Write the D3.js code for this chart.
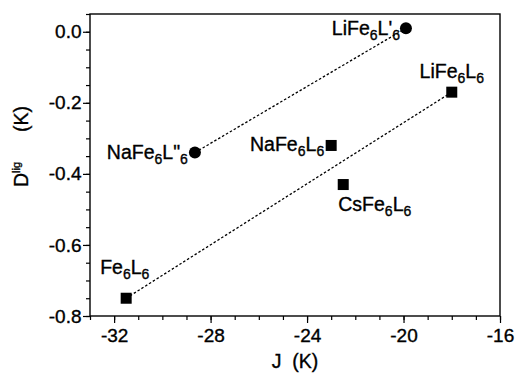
<!DOCTYPE html>
<html>
<head>
<meta charset="utf-8">
<script src="https://cdn.jsdelivr.net/npm/d3@7"></script>
<style>
  body { margin: 0; background: #fff; }
  text { font-family: "Liberation Sans", Arial, sans-serif; fill: #000; stroke: #000; stroke-width: 0.35px; }
</style>
</head>
<body>
<div id="chart-area"></div>
<script>
// compounds and their values (J in K, D_lig in K)
var names   = ['LiFe6L\'6', 'LiFe6L6', 'NaFe6L6', 'CsFe6L6', 'NaFe6L"6', 'Fe6L6'];
var shapes  = ['circle', 'square', 'square', 'square', 'circle', 'square'];
var jValues = [-19.9, -18.0, -23.0, -22.5, -28.65, -31.5];
var dValues = [0.01, -0.17, -0.32, -0.43, -0.34, -0.75];

// dotted guide lines (end points)
var upperLine = [[-28.65, -0.34], [-19.9, 0.01]];
var lowerLine = [[-31.5, -0.75], [-18.0, -0.17]];

var xTicks = [-32, -28, -24, -20, -16];
var yTicks = [-0.8, -0.6, -0.4, -0.2, 0.0];

var margin = { top: 14, left: 90, bottom: 57, right: 16 };
var width = 516 - margin.left - margin.right;
var height = 373 - margin.top - margin.bottom;

var svg = d3.select('#chart-area').append('svg')
    .attr('width', 516)
    .attr('height', 373);

var g = svg.append('g').attr('transform', `translate(${margin.left}, ${margin.top})`);

var x = d3.scaleLinear().domain([-33, -16]).range([0, width]);
var y = d3.scaleLinear().domain([-0.8, 0.05]).range([height, 0]);

// minor ticks
g.append('g').attr('class', 'x-minor')
    .attr('transform', `translate(0, ${height})`)
    .call(d3.axisBottom(x).tickValues(d3.range(-33, -15.5, 1)).tickSize(4).tickFormat(''));
g.append('g').attr('class', 'y-minor')
    .call(d3.axisLeft(y).tickValues(d3.range(-0.8, 0.051, 0.05)).tickSize(4).tickFormat(''));

// major ticks
g.append('g').attr('class', 'x-axis')
    .attr('transform', `translate(0, ${height})`)
    .call(d3.axisBottom(x).tickValues(xTicks).tickSize(7).tickPadding(6).tickFormat(d => String(d)));
g.append('g').attr('class', 'y-axis')
    .call(d3.axisLeft(y).tickValues(yTicks).tickSize(7).tickPadding(1.5).tickFormat(d => d.toFixed(1)));

g.selectAll('.domain').remove();
g.selectAll('.tick line').attr('stroke', '#000').attr('stroke-width', 1.2);
g.selectAll('.x-axis text, .y-axis text')
    .attr('font-size', '19px')
    .attr('font-family', '"Liberation Sans", Arial, sans-serif')
    .attr('fill', '#000');

// frame
g.append('rect')
    .attr('width', width).attr('height', height)
    .attr('fill', 'none').attr('stroke', '#000').attr('stroke-width', 1.4);

// dotted lines
var line = d3.line().x(d => x(d[0])).y(d => y(d[1]));
[upperLine, lowerLine].forEach(l => {
    g.append('path')
        .attr('d', line(l))
        .attr('fill', 'none')
        .attr('stroke', '#000')
        .attr('stroke-width', 1.3)
        .attr('stroke-dasharray', '2.5,2');
});

var data = names.map((n, i) => ({ name: n, shape: shapes[i], j: jValues[i], d: dValues[i] }));

// markers
g.selectAll('circle.pt').data(data.filter(d => d.shape === 'circle'))
    .enter().append('circle')
    .attr('class', 'pt')
    .attr('cx', d => x(d.j))
    .attr('cy', d => y(d.d))
    .attr('r', 6)
    .attr('fill', '#000');

g.selectAll('rect.pt').data(data.filter(d => d.shape === 'square'))
    .enter().append('rect')
    .attr('class', 'pt')
    .attr('x', d => x(d.j) - 5.5)
    .attr('y', d => y(d.d) - 5.5)
    .attr('width', 11)
    .attr('height', 11)
    .attr('fill', '#000');

// label placement relative to marker: [dx, dy, anchor]
var labelPos = [[-6, 7, 'end'], [0, -14, 'middle'], [-7, 5.5, 'end'], [-5, 26, 'start'], [-7, 6, 'end'], [-26, -24, 'start']];

data.forEach((d, i) => {
    var p = labelPos[i];
    var t = g.append('text')
        .attr('x', x(d.j) + p[0])
        .attr('y', y(d.d) + p[1])
        .attr('text-anchor', p[2])
        .attr('font-size', '19.5px');
    var parts = d.name.split(/(6)/).filter(s => s !== '');
    var shifted = false;
    parts.forEach(s => {
        if (s === '6') {
            t.append('tspan').attr('font-size', '14px').attr('dy', shifted ? 0 : 5).text(s);
            shifted = true;
        } else {
            t.append('tspan').attr('dy', shifted ? -5 : 0).text(s);
            shifted = false;
        }
    });
});

// axis titles
svg.append('text')
    .attr('x', 295)
    .attr('y', 368)
    .attr('text-anchor', 'middle')
    .attr('font-size', '19.5px')
    .style('white-space', 'pre')
    .text('J  (K)');

var yt = svg.append('text')
    .attr('transform', 'rotate(-90)')
    .attr('x', -187)
    .attr('y', 28)
    .attr('font-size', '19.5px');
yt.append('tspan').text('D');
yt.append('tspan').attr('font-size', '11px').attr('dy', -8).text('lig');
yt.append('tspan').attr('dy', 8).attr('dx', 30).text('(K)');
</script>
</body>
</html>
